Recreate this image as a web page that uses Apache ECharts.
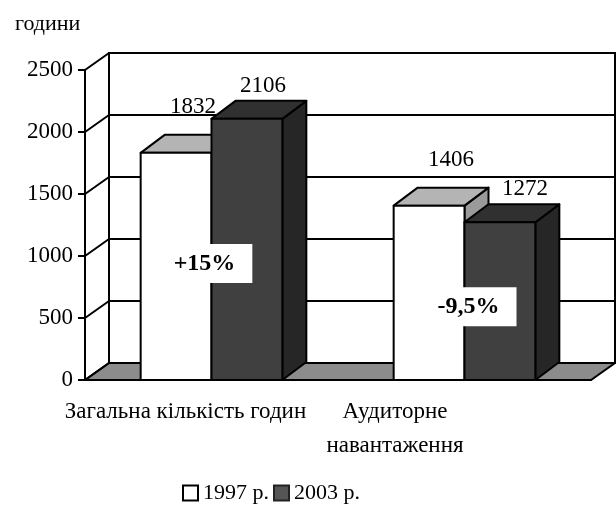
<!DOCTYPE html>
<html>
<head>
<meta charset="utf-8">
<script src="https://cdn.jsdelivr.net/npm/echarts@6/dist/echarts.min.js"></script>
<style>
  html, body { margin: 0; padding: 0; background: #fff; }
  #chart { width: 616px; height: 512px; }
</style>
</head>
<body>
<div id="chart"></div>
<script>
const categories = ['Загальна кількість годин', 'Аудиторне\nнавантаження'];
const years = ['1997 р.', '2003 р.'];
const hours1997 = [1832, 1406];
const hours2003 = [2106, 1272];
const changeLabels = ['+15%', '-9,5%'];
const yTicks = [0, 500, 1000, 1500, 2000, 2500];

// layout for the 3D look
const WALL = [24, -17];
const DEPTH = [24, -18];
const BAR_FRAC = 0.28;
const FONT = '"Liberation Serif", "Times New Roman", serif';
// where the % notes sit: [x shift from category centre, y in axis units]
const notePos = [[-7, 940], [4, 590]];

const chart = echarts.init(document.getElementById('chart'));

const renderWalls = (params, api) => {
  const r = params.coordSys;
  const left = r.x, right = r.x + r.width, bottom = r.y + r.height;
  const [dx, dy] = WALL;
  const yOf = v => api.coord([0, v])[1];
  const top = yOf(yTicks[yTicks.length - 1]);
  const line = { stroke: '#000', lineWidth: 2 };
  const children = [
    {
      type: 'polygon',
      shape: { points: [[left + dx, top + dy], [right + dx, top + dy], [right + dx, bottom + dy], [left + dx, bottom + dy]] },
      style: { fill: '#fff', stroke: '#000', lineWidth: 2 }
    },
    {
      type: 'polygon',
      shape: { points: [[left, bottom], [right, bottom], [right + dx, bottom + dy], [left + dx, bottom + dy]] },
      style: { fill: '#8c8c8c', stroke: '#000', lineWidth: 2 }
    }
  ];
  yTicks.forEach(v => {
    const y = yOf(v);
    children.push({ type: 'line', shape: { x1: left + dx, y1: y + dy, x2: right + dx, y2: y + dy }, style: line });
    children.push({ type: 'line', shape: { x1: left, y1: y, x2: left + dx, y2: y + dy }, style: line });
  });
  return { type: 'group', children };
};

const makeBarRenderer = (side, colors, labelGap, labelShift) => (params, api) => {
  const cat = api.value(0), val = api.value(1);
  const base = api.coord([cat, 0]);
  const top = api.coord([cat, val]);
  const bw = api.size([1, 0])[0] * BAR_FRAC;
  const x0 = side === 0 ? base[0] - bw : base[0];
  const ty = top[1], by = base[1];
  const [dx, dy] = DEPTH;
  const edge = { stroke: '#000', lineWidth: 2, lineJoin: 'round' };
  return {
    type: 'group',
    children: [
      {
        type: 'polygon',
        shape: { points: [[x0 + bw, ty], [x0 + bw + dx, ty + dy], [x0 + bw + dx, by + dy], [x0 + bw, by]] },
        style: Object.assign({ fill: colors.side }, edge)
      },
      {
        type: 'polygon',
        shape: { points: [[x0, ty], [x0 + bw, ty], [x0 + bw + dx, ty + dy], [x0 + dx, ty + dy]] },
        style: Object.assign({ fill: colors.top }, edge)
      },
      {
        type: 'rect',
        shape: { x: x0, y: ty, width: bw, height: by - ty },
        style: Object.assign({ fill: colors.front }, edge)
      },
      {
        type: 'text',
        style: {
          text: String(val),
          x: x0 + bw / 2 + dx / 2 + labelShift[params.dataIndex],
          y: ty + dy - labelGap,
          align: 'center',
          verticalAlign: 'middle',
          font: '23px ' + FONT,
          fill: '#000'
        }
      }
    ]
  };
};

const renderNote = (params, api) => {
  const i = params.dataIndex;
  const c = api.coord([api.value(0), notePos[i][1]]);
  return {
    type: 'text',
    z2: 100,
    style: {
      text: changeLabels[i],
      x: c[0] + notePos[i][0],
      y: c[1],
      align: 'center',
      verticalAlign: 'middle',
      font: 'bold 24px ' + FONT,
      fill: '#000',
      backgroundColor: '#fff',
      padding: [8, 17, 7, 17]
    }
  };
};

const option = {
  backgroundColor: '#fff',
  animation: false,
  title: {
    text: 'години',
    left: 10,
    top: 8,
    textStyle: { fontFamily: FONT, fontWeight: 'normal', fontSize: 22, color: '#000' }
  },
  legend: {
    data: [
      { name: years[0], itemStyle: { color: '#fff', borderColor: '#000', borderWidth: 2 } },
      { name: years[1], itemStyle: { color: '#555', borderColor: '#222', borderWidth: 2 } }
    ],
    top: 477,
    left: 177,
    icon: 'rect',
    itemWidth: 15,
    itemHeight: 15,
    itemGap: 4,
    textStyle: { fontFamily: FONT, fontSize: 22, color: '#000' }
  },
  grid: { left: 85, right: 25, top: 70, bottom: 132 },
  xAxis: {
    type: 'category',
    data: categories,
    axisLine: { lineStyle: { color: '#000', width: 2 } },
    axisTick: { length: 6, lineStyle: { color: '#000', width: 2 } },
    axisLabel: {
      interval: 0,
      margin: 15,
      color: '#000',
      formatter: (value, index) => index === 0
        ? '{a|' + value + '}'
        : value.split('\n').map(s => '{b|' + s + '}').join('\n'),
      rich: {
        a: { fontFamily: FONT, fontSize: 23, lineHeight: 34, padding: [0, 52, 0, 0], color: '#000' },
        b: { fontFamily: FONT, fontSize: 23, lineHeight: 34, padding: [0, 139, 0, 0], color: '#000' }
      }
    }
  },
  yAxis: {
    type: 'value',
    min: 0,
    max: 2500,
    interval: 500,
    axisLine: { show: true, lineStyle: { color: '#000', width: 2 } },
    axisTick: { show: true, length: 7, lineStyle: { color: '#000', width: 2 } },
    axisLabel: { margin: 12, color: '#000', fontFamily: FONT, fontSize: 23, formatter: v => String(v) },
    splitLine: { show: false }
  },
  series: [
    {
      type: 'custom',
      name: 'walls',
      silent: true,
      clip: false,
      z: 1,
      data: [[0, 0]],
      renderItem: renderWalls
    },
    {
      type: 'custom',
      name: years[0],
      clip: false,
      z: 3,
      itemStyle: { color: '#fff' },
      data: hours1997.map((v, i) => [i, v]),
      renderItem: makeBarRenderer(0, { front: '#fff', top: '#b4b4b4', side: '#9a9a9a' }, 28, [5, 10])
    },
    {
      type: 'custom',
      name: years[1],
      clip: false,
      z: 4,
      itemStyle: { color: '#555' },
      data: hours2003.map((v, i) => [i, v]),
      renderItem: makeBarRenderer(1, { front: '#404040', top: '#303030', side: '#262626' }, 15, [4, 13])
    },
    {
      type: 'custom',
      name: 'notes',
      silent: true,
      clip: false,
      z: 5,
      data: changeLabels.map((t, i) => [i, 0]),
      renderItem: renderNote
    }
  ]
};

chart.setOption(option);
window.addEventListener('resize', () => chart.resize());
</script>
</body>
</html>
